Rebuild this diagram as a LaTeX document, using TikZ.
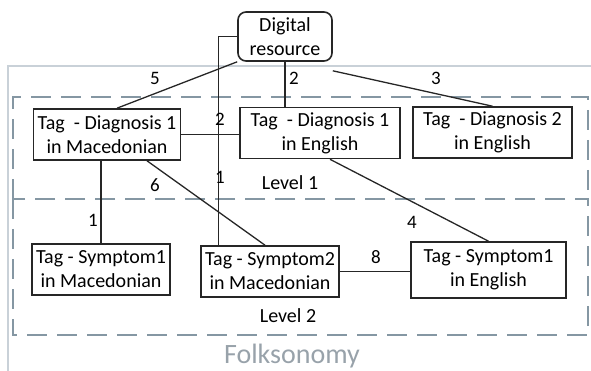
\documentclass[tikz,border=0pt]{standalone}
\usepackage{fontspec}
\setmainfont{Carlito}
\usepackage{tikz}
\usetikzlibrary{positioning,calc}
\definecolor{folkgray}{HTML}{C9D1D8}
\definecolor{levelblue}{HTML}{8597A3}
\definecolor{folktext}{HTML}{98A2AA}
\tikzset{
  tagbox/.style={draw=black!85, line width=1.6pt, fill=white, align=center,
                 inner xsep=4pt, inner ysep=2pt, font=\fontsize{20}{24}\selectfont,
                 minimum height=51pt},
  resbox/.style={tagbox, rounded corners=8pt, minimum height=49pt, minimum width=94pt},
  levelbox/.style={draw=levelblue, line width=1.6pt, dash pattern=on 20pt off 10pt},
  link/.style={draw=black!85, line width=1.3pt},
  wlabel/.style={font=\fontsize{19}{21}\selectfont, inner sep=0pt},
}

\begin{document}
\begin{tikzpicture}[x=1pt,y=-1pt]
  \clip (0,0) rectangle (591,371);
  % folksonomy frame with the two levels
  \draw[folkgray, line width=1.2pt] (8,400) -- (8,66) -- (600,66);
  \draw[levelbox] (13,199) -- (13,97) -- (588,97) -- (588,199);
  \draw[levelbox] (13,199) rectangle (588,335);
  \node[font=\fontsize{20}{24}\selectfont] (lvlone) at (290,183) {Level 1};
  \node[font=\fontsize{20}{24}\selectfont] (lvltwo) at (288,316) {Level 2};
  \node[folktext, font=\fontsize{28}{30}\selectfont] (folk) at (292,356) {Folksonomy};

  % resource and tags
  \node[resbox] (dr) at (285,36.5) {Digital\\resource};
  \node[tagbox] (d1m) at (107,134.5) {Tag\ \ - Diagnosis 1\\in Macedonian};
  \node[tagbox, minimum width=160pt] (d1e) at (320,133) {Tag\ \ - Diagnosis 1\\in English};
  \node[tagbox, minimum width=159pt] (d2e) at (492.5,132.5) {Tag\ \ - Diagnosis 2\\in English};
  \node[tagbox] (s1m) at (101,269.5) {Tag - Symptom1\\in Macedonian};
  \node[tagbox] (s2m) at (270,271.5) {Tag - Symptom2\\in Macedonian};
  \node[tagbox, minimum width=155pt, minimum height=56pt] (s1e) at (488.5,270) {Tag - Symptom1\\in English};

  % links with weights
  \draw[link] (dr.south west) -- ([xshift=10pt]d1m.north);
  \draw[link] (dr.south) -- (dr.south |- d1e.north);
  \draw[link] ([yshift=-9pt]dr.south east) -- (d2e.north);
  \draw[link] (dr.west) -| ([xshift=18pt]s2m.north west);
  \draw[link] (d1m.east) -- (d1e.west |- d1m.east);
  \draw[link] (s1m.north |- d1m.south) -- (s1m.north);
  \draw[link] ([xshift=40pt]d1m.south) -- ([xshift=-5pt]s2m.north);
  \draw[link] ([xshift=10pt]d1e.south) -- (s1e.north);
  \draw[link] (s2m.east) -- (s1e.west |- s2m.east);

  \node[wlabel] (w5) at (155,78) {5};
  \node[wlabel] (w2a) at (294,78) {2};
  \node[wlabel] (w3) at (436,78) {3};
  \node[wlabel] (w2b) at (220,119) {2};
  \node[wlabel] (w1a) at (220,177) {1};
  \node[wlabel] (w6) at (155,185) {6};
  \node[wlabel] (w1b) at (93,220) {1};
  \node[wlabel] (w4) at (412,222) {4};
  \node[wlabel] (w8) at (376,257) {8};
\end{tikzpicture}
\end{document}
